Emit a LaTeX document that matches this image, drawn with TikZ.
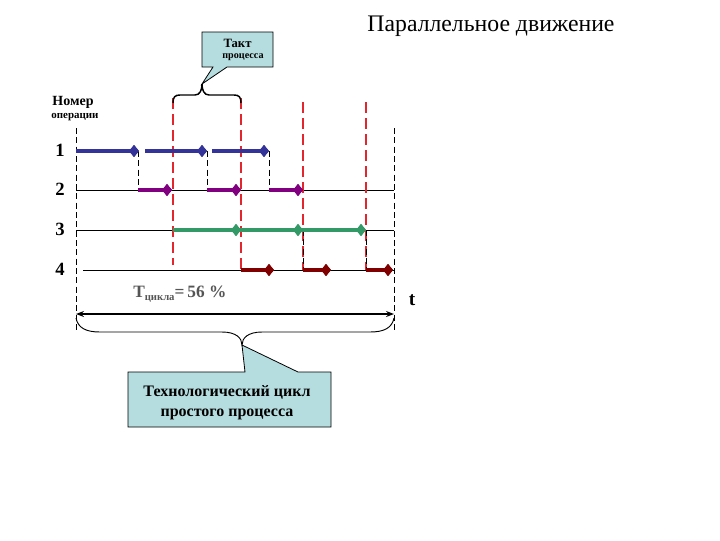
\documentclass[tikz,border=0pt]{standalone}
\usepackage{fontspec}
\setmainfont{Liberation Serif}
\usetikzlibrary{shapes.geometric,arrows.meta}
\definecolor{opblue}{HTML}{333399}
\definecolor{oppurple}{HTML}{800080}
\definecolor{opgreen}{HTML}{339966}
\definecolor{opred}{HTML}{800000}
\definecolor{callfill}{HTML}{B5DDDF}
\definecolor{redline}{HTML}{E3262E}
\definecolor{tgray}{HTML}{555555}
\begin{document}
\begin{tikzpicture}[x=0.75pt,y=-0.75pt,
 dia/.style={diamond, fill=#1, draw=#1, minimum width=7pt, minimum height=8.5pt, inner sep=0pt},
 seg/.style={line width=3pt, draw=#1},
 rowline/.style={line width=0.6pt},
 vdash/.style={line width=0.7pt, dash pattern=on 4.5pt off 2.5pt},
 rdash/.style={draw=redline, line width=1.5pt, dash pattern=on 8pt off 4pt},
 lbl/.style={font=\bfseries\fontsize{14}{16}\selectfont},
 callbox/.style={fill=callfill, draw=black, line width=0.6pt},
]
\useasboundingbox (0,0) rectangle (720,540);

% title
\node[font=\fontsize{17.8}{20}\selectfont] (title) at (491,26) {Параллельное движение};

% axes
\draw[vdash] (76,128) coordinate (axL1) -- (76,330) coordinate (axL2);
\draw[vdash] (394,128) coordinate (axR1) -- (394,330) coordinate (axR2);

% row lines
\draw[rowline] (76,190) -- (394,190);
\draw[rowline] (76,230) -- (394,230);
\draw[rowline] (83,270) -- (394,270);

% labels
\node[font=\bfseries\fontsize{10.5}{12}\selectfont] (nomer) at (73,102) {Номер};
\node[font=\bfseries\fontsize{8.2}{10}\selectfont] (oper) at (75,117) {операции};
\node[lbl] (r1) at (60,150) {1};
\node[lbl] (r2) at (60,189) {2};
\node[lbl] (r3) at (60,229) {3};
\node[lbl] (r4) at (60,269) {4};

% red dashed takt lines
\draw[rdash] (173,98) -- (173,265);
\draw[rdash] (241,98) -- (241,270);
\draw[rdash] (303,102) -- (303,270);
\draw[rdash] (366,102) -- (366,270);

% transfer dashes
\draw[vdash] (138,151) -- (138,190);
\draw[vdash] (207,151) -- (207,190);
\draw[vdash] (269,151) -- (269,190);
\draw[vdash] (303,230) -- (303,270);
\draw[vdash] (366,230) -- (366,270);

% diamonds
\node[dia=opblue] (d11) at (134,151) {};
\node[dia=opblue] (d12) at (202,151) {};
\node[dia=opblue] (d13) at (264,151) {};
\node[dia=oppurple] (d21) at (167,190) {};
\node[dia=oppurple] (d22) at (236,190) {};
\node[dia=oppurple] (d23) at (298,190) {};
\node[dia=opgreen] (d31) at (236,230) {};
\node[dia=opgreen] (d32) at (298,230) {};
\node[dia=opgreen] (d33) at (361,230) {};
\node[dia=opred] (d41) at (269,270) {};
\node[dia=opred] (d42) at (326,270) {};
\node[dia=opred] (d43) at (388,270) {};

% segments
\draw[seg=opblue] (76,151) -- (d11.center);
\draw[seg=opblue] (145,151) -- (d12.center);
\draw[seg=opblue] (212,151) -- (d13.center);
\draw[seg=oppurple] (138,190) -- (d21.center);
\draw[seg=oppurple] (207,190) -- (d22.center);
\draw[seg=oppurple] (269,190) -- (d23.center);
\draw[seg=opgreen] (173,230) -- (d31.center) -- (d32.center) -- (d33.center);
\draw[seg=opred] (241,270) -- (d41.center);
\draw[seg=opred] (303,270) -- (d42.center);
\draw[seg=opred] (366,270) -- (d43.center);
% redraw diamonds on top
\foreach \n/\c in {d11/opblue,d12/opblue,d13/opblue,d21/oppurple,d22/oppurple,d23/oppurple,d31/opgreen,d32/opgreen,d33/opgreen,d41/opred,d42/opred,d43/opred}
  \node[dia=\c] at (\n) {};

% top brace
\draw[line width=1.1pt] (173,103) .. controls (173,97) and (175,95) .. (180,95) -- (195,95)
  .. controls (200,95) and (202,90) .. (202,84)
  .. controls (202,90) and (204,95) .. (209,95) -- (234,95)
  .. controls (239,95) and (241,97) .. (241,103);

% takt callout
\draw[callbox] (202,32) -- (273,32) -- (273,67) -- (227,67) -- (202,84) -- (213,67) -- (202,67) -- cycle;
\node[font=\bfseries\fontsize{9.5}{11}\selectfont] (takt) at (237.5,43) {Такт};
\node[font=\bfseries\fontsize{7.6}{9}\selectfont] (proc) at (243,57) {процесса};

% cycle text
\node[anchor=west, text=tgray, font=\bfseries\fontsize{13}{15}\selectfont, inner sep=0pt] (tc) at (133,294)
  {Т\raisebox{-0.45ex}{\fontsize{8}{9}\selectfont цикла}=\,56 \%};
\node[font=\bfseries\fontsize{14.5}{16}\selectfont] (t) at (412,300) {t};

% double arrow
\coordinate (aL) at (76,314);
\coordinate (aR) at (394,314);
\draw[line width=1.5pt, {Stealth[length=6pt,width=4.5pt]}-{Stealth[length=6pt,width=4.5pt]}] (aL) -- (aR);

% bottom brace
\draw[line width=0.7pt] (76,318) .. controls (78,328) and (86,332) .. (100,332) -- (222,332)
  .. controls (236,332) and (242,338) .. (242,345)
  .. controls (242,338) and (248,332) .. (262,332) -- (370,332)
  .. controls (384,332) and (392,328) .. (394,318);

% bottom callout
\draw[callbox] (128,372) -- (245,372) -- (242,345) -- (298,372) -- (331,372) -- (331,427) -- (128,427) -- cycle;
\node[font=\bfseries\fontsize{12}{15}\selectfont, align=center] (cyc) at (227,403) {Технологический цикл\\простого процесса};
\end{tikzpicture}
\end{document}
